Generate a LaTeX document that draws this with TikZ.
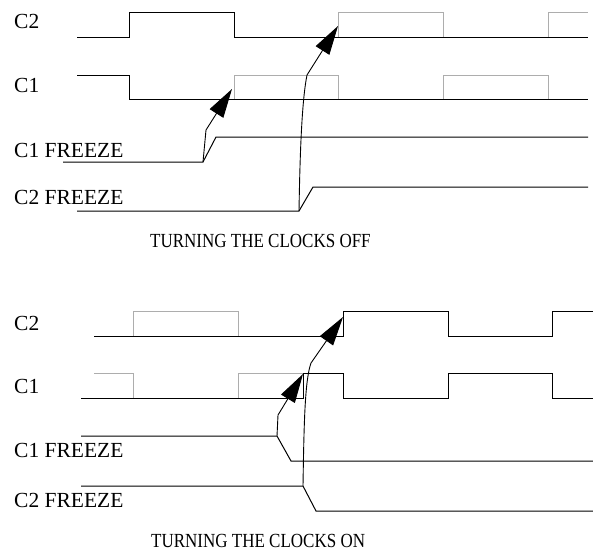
\documentclass[tikz,border=0pt]{standalone}
\usepackage{fontspec}
\setmainfont{Liberation Serif}
\usetikzlibrary{arrows.meta}

\begin{document}
\begin{tikzpicture}[x=1pt,y=-1pt,
    lbl/.style={anchor=base west,inner sep=0pt,font=\fontsize{21.5}{25}\selectfont},
    ttl/.style={anchor=base west,inner sep=0pt,font=\fontsize{20}{24}\selectfont,xscale=0.85,transform shape},
    wave/.style={line width=1pt,black},
    ghost/.style={line width=1pt,black!32},
    freeze/.style={-{Triangle[length=29pt,width=16pt]},line width=0.9pt}]
    \useasboundingbox (0,0) rectangle (593,554);

    % turning the clocks off
    \node[lbl] (C2off) at (14,28) {C2};
    \node[lbl] (C1off) at (14,92) {C1};
    \node[lbl] (F1off) at (14,157) {C1 FREEZE};
    \node[lbl] (F2off) at (14,204) {C2 FREEZE};
    \node[ttl] (offtitle) at (150,247) {TURNING THE CLOCKS OFF};

    \draw[ghost] (338,37) -- (338,12) -- (443,12) -- (443,37);
    \draw[ghost] (548,37) -- (548,12) -- (588,12);
    \draw[ghost] (234,99) -- (234,75) -- (338,75) -- (338,99);
    \draw[ghost] (443,99) -- (443,75) -- (548,75) -- (548,99);
    \draw[wave] (77,37) -- (129,37) -- (129,12) -- (234,12) -- (234,37) -- (588,37);
    \draw[wave] (77,75) -- (129,75) -- (129,99) -- (588,99);
    \draw[wave] (63,162) -- (203,162) -- (216,137) -- (588,137);
    \draw[wave] (77,211) -- (299,211) -- (313,187) -- (588,187);

    \coordinate (s1off) at (203,162);
    \coordinate (e1off) at (232,89);
    \coordinate (s2off) at (299,211);
    \coordinate (e2off) at (338,26);
    \draw[freeze] (s1off) -- (206,130) -- (e1off);
    \draw[freeze] (s2off) .. controls (300,150) and (302,100) .. (307,75) -- (e2off);

    % turning the clocks on
    \node[lbl] (C2on) at (14,330) {C2};
    \node[lbl] (C1on) at (14,393) {C1};
    \node[lbl] (F1on) at (14,457) {C1 FREEZE};
    \node[lbl] (F2on) at (14,507) {C2 FREEZE};
    \node[ttl] (ontitle) at (151,547) {TURNING THE CLOCKS ON};

    \draw[ghost] (133,336) -- (133,311) -- (238,311) -- (238,336);
    \draw[ghost] (94,373) -- (133,373) -- (133,398);
    \draw[ghost] (238,398) -- (238,373) -- (303,373);
    \draw[wave] (94,336) -- (343,336) -- (343,311) -- (448,311) -- (448,336)
        -- (552,336) -- (552,311) -- (593,311);
    \draw[wave] (81,398) -- (303,398) -- (303,373) -- (343,373) -- (343,398)
        -- (448,398) -- (448,373) -- (552,373) -- (552,398) -- (593,398);
    \draw[wave] (81,436) -- (277,436) -- (291,461) -- (593,461);
    \draw[wave] (81,486) -- (303,486) -- (316,511) -- (593,511);

    \coordinate (s1on) at (277,436);
    \coordinate (e1on) at (303,374);
    \coordinate (s2on) at (303,486);
    \coordinate (e2on) at (343,317);
    \draw[freeze] (s1on) -- (278,415) -- (e1on);
    \draw[freeze] (s2on) .. controls (304,420) and (305,380) .. (311,363) -- (e2on);

\end{tikzpicture}
\end{document}
